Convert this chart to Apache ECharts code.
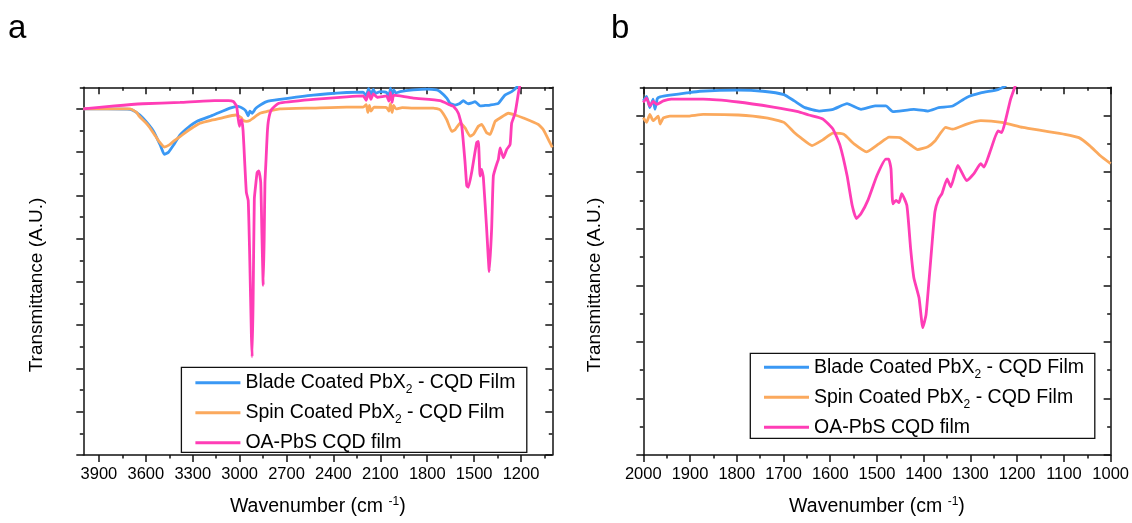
<!DOCTYPE html>
<html><head><meta charset="utf-8">
<script src="https://cdn.jsdelivr.net/npm/echarts@6/dist/echarts.min.js"></script>
<style>html,body{margin:0;padding:0;background:#fff}#c{width:1132px;height:523px}</style>
</head><body><div id="c"></div>
<script>
// ---------- DATA ----------
const seriesNames = ['Blade Coated PbX2 - CQD Film', 'Spin Coated PbX2 - CQD Film', 'OA-PbS CQD film'];
const seriesColors = ['#3a98f4', '#fba95d', '#ff3db6'];

// Panel a : wavenumber (cm-1), transmittance (a.u.)
const bladeA = [[4000,8.00],[3850,8.00],[3700,7.99],[3665,7.93],[3619,7.79],[3550,7.48],[3505,7.14],[3482,6.95],[3455,7.00],[3420,7.18],[3381,7.40],[3330,7.57],[3275,7.71],[3168,7.86],[3062,8.02],[3009,8.06],[2975,8.00],[2960,7.95],[2945,7.84],[2935,7.95],[2920,7.90],[2900,8.00],[2881,8.06],[2827,8.17],[2742,8.22],[2529,8.32],[2315,8.38],[2210,8.39],[2190,8.30],[2175,8.47],[2160,8.33],[2145,8.45],[2130,8.36],[2100,8.40],[2060,8.38],[2045,8.28],[2035,8.48],[2025,8.30],[2015,8.44],[2000,8.37],[1974,8.40],[1889,8.44],[1803,8.46],[1740,8.44],[1718,8.40],[1675,8.25],[1654,8.13],[1622,8.09],[1595,8.12],[1569,8.19],[1550,8.14],[1537,8.12],[1515,8.14],[1494,8.17],[1478,8.12],[1462,8.07],[1430,8.08],[1398,8.09],[1345,8.13],[1303,8.32],[1260,8.40],[1228,8.50],[1200,8.75]];
const spinA = [[4000,8.00],[3700,8.00],[3660,7.92],[3642,7.83],[3600,7.68],[3573,7.56],[3540,7.38],[3516,7.25],[3482,7.12],[3450,7.17],[3420,7.26],[3381,7.36],[3345,7.46],[3300,7.57],[3254,7.67],[3180,7.74],[3117,7.79],[3025,7.86],[2990,7.80],[2979,7.74],[2955,7.71],[2935,7.73],[2913,7.79],[2870,7.90],[2827,7.94],[2742,8.00],[2529,8.02],[2315,8.04],[2210,8.04],[2190,8.10],[2180,7.92],[2170,8.08],[2160,7.95],[2140,8.04],[2060,8.03],[2045,7.95],[2035,8.12],[2025,7.92],[2015,8.08],[2000,8.00],[1960,8.03],[1889,8.02],[1761,8.02],[1718,7.98],[1675,7.75],[1643,7.48],[1622,7.52],[1590,7.67],[1558,7.56],[1526,7.37],[1505,7.41],[1473,7.60],[1452,7.64],[1420,7.45],[1398,7.41],[1366,7.71],[1334,7.79],[1281,7.90],[1238,7.86],[1185,7.79],[1089,7.64],[1057,7.52],[1015,7.22],[1000,7.11]];
const oaA = [[4000,8.00],[3800,8.07],[3619,8.12],[3381,8.15],[3162,8.19],[3071,8.19],[3040,8.17],[3025,8.10],[3019,8.06],[3010,7.80],[3002,7.60],[2995,7.72],[2987,7.75],[2978,7.50],[2968,6.80],[2957,6.07],[2945,5.88],[2935,4.50],[2925,2.80],[2920,2.27],[2914,3.50],[2906,5.92],[2897,6.25],[2888,6.53],[2877,6.57],[2865,6.30],[2858,5.20],[2849,3.92],[2843,5.00],[2838,6.30],[2831,6.83],[2823,7.45],[2815,7.75],[2797,7.98],[2751,8.13],[2529,8.22],[2315,8.28],[2209,8.30],[2190,8.20],[2175,8.38],[2160,8.22],[2145,8.35],[2120,8.27],[2060,8.30],[2045,8.18],[2035,8.38],[2025,8.15],[2015,8.32],[1974,8.30],[1889,8.25],[1718,8.19],[1654,8.09],[1633,8.06],[1601,7.90],[1579,7.60],[1558,6.76],[1547,6.22],[1537,6.19],[1516,6.53],[1484,7.22],[1473,7.25],[1462,6.45],[1452,6.60],[1441,6.41],[1420,5.23],[1403,4.24],[1388,5.23],[1377,6.45],[1356,6.72],[1345,6.83],[1334,7.10],[1313,6.87],[1292,7.06],[1270,7.18],[1260,7.67],[1238,7.90],[1217,8.36],[1200,8.70]];

// Panel b
const bladeB = [[2000,6.26],[1993,6.34],[1986,6.14],[1979,6.29],[1975,6.11],[1970,6.30],[1964,6.33],[1943,6.36],[1907,6.40],[1879,6.43],[1797,6.45],[1744,6.43],[1699,6.37],[1677,6.26],[1654,6.14],[1624,6.08],[1594,6.11],[1564,6.21],[1534,6.11],[1504,6.17],[1481,6.17],[1466,6.07],[1421,6.11],[1391,6.08],[1368,6.14],[1338,6.17],[1308,6.32],[1278,6.40],[1241,6.46],[1226,6.52],[1215,6.65]];
const spinB = [[2000,5.96],[1993,5.88],[1986,6.02],[1979,5.91],[1968,5.99],[1964,5.85],[1957,5.96],[1943,5.99],[1907,5.99],[1872,6.02],[1797,6.01],[1737,5.96],[1699,5.88],[1677,5.70],[1662,5.60],[1639,5.47],[1616,5.57],[1594,5.69],[1571,5.67],[1549,5.50],[1522,5.36],[1496,5.50],[1474,5.62],[1451,5.61],[1428,5.48],[1413,5.40],[1391,5.45],[1376,5.55],[1353,5.79],[1338,5.76],[1308,5.85],[1278,5.91],[1233,5.88],[1188,5.79],[1143,5.73],[1098,5.67],[1068,5.61],[1045,5.47],[1022,5.29],[1000,5.15]];
const oaB = [[2000,6.23],[1993,6.31],[1986,6.17],[1979,6.25],[1971,6.20],[1957,6.26],[1940,6.29],[1872,6.29],[1797,6.24],[1722,6.15],[1669,6.07],[1646,6.01],[1616,5.94],[1594,5.76],[1579,5.47],[1564,4.94],[1553,4.41],[1544,4.18],[1534,4.27],[1519,4.51],[1500,4.94],[1481,5.23],[1475,5.23],[1470,5.06],[1466,4.44],[1459,4.50],[1453,4.46],[1447,4.62],[1436,4.41],[1428,3.65],[1421,3.13],[1410,2.78],[1402,2.25],[1395,2.48],[1383,3.65],[1376,4.30],[1368,4.53],[1361,4.62],[1350,4.88],[1342,4.74],[1327,5.12],[1308,4.85],[1293,4.97],[1278,5.15],[1271,5.09],[1256,5.41],[1241,5.73],[1233,5.70],[1226,5.88],[1214,6.29],[1203,6.55],[1195,6.75]];

// Tick values
const xTicksA = [3900,3600,3300,3000,2700,2400,2100,1800,1500,1200];
const xMinorA = [3750,3450,3150,2850,2550,2250,1950,1650,1350,1050];
const xTicksB = [2000,1900,1800,1700,1600,1500,1400,1300,1200,1100,1000];
const xMinorB = [1950,1850,1750,1650,1550,1450,1350,1250,1150,1050];
const yTicksA = [0,1,2,3,4,5,6,7,8];
const yMinorA = [0.5,1.5,2.5,3.5,4.5,5.5,6.5,7.5,8.5];
const yTicksB = [0,1,2,3,4,5,6];
const yMinorB = [0.5,1.5,2.5,3.5,4.5,5.5,6.5];

// ---------- CHART ----------
const FONT = '"Liberation Sans", Arial, sans-serif';
const axisColor = '#111';
const lineSt = {color: axisColor, width: 1.5};

function xAxes(grid, min, max, major, minor) {
  const base = {type:'value', gridIndex:grid, min, max, inverse:true, splitLine:{show:false}};
  return [
    Object.assign({}, base, {position:'bottom', axisLine:{show:true, onZero:false, lineStyle:lineSt},
      axisTick:{show:true, customValues:major, length:7, inside:false, lineStyle:lineSt},
      axisLabel:{show:true, customValues:major, margin:11, fontSize:16.5, color:'#000', fontFamily:FONT, formatter:v=>String(v)},
      name:'Wavenumber (cm {sup|-1})', nameLocation:'middle', nameGap:41,
      nameTextStyle:{fontSize:19.5, color:'#000', fontFamily:FONT, lineHeight:22,
        rich:{sup:{fontSize:12, verticalAlign:'top', fontFamily:FONT, color:'#000'}}}}),
    Object.assign({}, base, {position:'bottom', axisLine:{show:false, onZero:false},
      axisTick:{show:true, customValues:minor, length:3.5, inside:false, lineStyle:lineSt}, axisLabel:{show:false}}),
    Object.assign({}, base, {position:'top', axisLine:{show:true, onZero:false, lineStyle:lineSt},
      axisTick:{show:true, customValues:major, length:7, inside:true, lineStyle:lineSt}, axisLabel:{show:false}}),
    Object.assign({}, base, {position:'top', axisLine:{show:false, onZero:false},
      axisTick:{show:true, customValues:minor, length:3.5, inside:true, lineStyle:lineSt}, axisLabel:{show:false}})
  ];
}
function yAxes(grid, min, max, major, minor) {
  const base = {type:'value', gridIndex:grid, min, max, splitLine:{show:false}, axisLabel:{show:false}};
  return [
    Object.assign({}, base, {position:'left', axisLine:{show:true, onZero:false, lineStyle:lineSt},
      axisTick:{show:true, customValues:major, length:7, inside:false, lineStyle:lineSt}}),
    Object.assign({}, base, {position:'left', axisLine:{show:false, onZero:false},
      axisTick:{show:true, customValues:minor, length:3.5, inside:false, lineStyle:lineSt}}),
    Object.assign({}, base, {position:'right', axisLine:{show:true, onZero:false, lineStyle:lineSt},
      axisTick:{show:true, customValues:major, length:7, inside:true, lineStyle:lineSt}}),
    Object.assign({}, base, {position:'right', axisLine:{show:false, onZero:false},
      axisTick:{show:true, customValues:minor, length:3.5, inside:true, lineStyle:lineSt}})
  ];
}

function mkSeries(data, idx, gridAxis) {
  return {type:'line', name:seriesNames[idx], data, xAxisIndex:gridAxis, yAxisIndex:gridAxis,
    showSymbol:false, symbol:'none', clip:true, smooth:0.15,
    lineStyle:{color:seriesColors[idx], width:2.8}, itemStyle:{color:seriesColors[idx]}, z: 2+idx};
}

const legendText = {fontSize:19.5, color:'#000', fontFamily:FONT, lineHeight:26,
  rich:{sub:{fontSize:12, verticalAlign:'bottom', fontFamily:FONT, color:'#000'}}};
function legendFmt(n){ return n.replace('PbX2', 'PbX{sub|2}'); }
function mkLegend(left, top) {
  return {orient:'vertical', left, top, padding:0, itemGap:4, itemWidth:45, itemHeight:3, icon:'rect',
    data:seriesNames, formatter:legendFmt, textStyle:legendText, selectedMode:false};
}

const titleFont = '19px "Liberation Sans", Arial, sans-serif';
const option = {
  animation:false,
  backgroundColor:'#fff',
  grid:[
    {left:83.3, top:87.3, width:469, height:371},
    {left:643.3, top:87.3, width:468.4, height:371}
  ],
  xAxis: xAxes(0, 1000, 4000, xTicksA, xMinorA).concat(xAxes(1, 1000, 2000, xTicksB, xMinorB)),
  yAxis: yAxes(0, 0, 8.5, yTicksA, yMinorA).concat(yAxes(1, 0, 6.5, yTicksB, yMinorB)),
  legend:[mkLegend(195.4, 369.7), mkLegend(764, 354.3)],
  series:[
    mkSeries(bladeA,0,0), mkSeries(spinA,1,0), mkSeries(oaA,2,0),
    mkSeries(bladeB,0,4), mkSeries(spinB,1,4), mkSeries(oaB,2,4)
  ],
  graphic:[
    {type:'text', x:8, y:29, style:{text:'a', font:'33px "Liberation Sans", Arial, sans-serif', fill:'#000', verticalAlign:'middle'}},
    {type:'text', x:611, y:29, style:{text:'b', font:'33px "Liberation Sans", Arial, sans-serif', fill:'#000', verticalAlign:'middle'}},
    {type:'text', x:37, y:285, rotation:Math.PI/2, style:{text:'Transmittance (A.U.)', x:0, y:0, align:'center', verticalAlign:'middle', font:titleFont, fill:'#000'}},
    {type:'text', x:595, y:285, rotation:Math.PI/2, style:{text:'Transmittance (A.U.)', x:0, y:0, align:'center', verticalAlign:'middle', font:titleFont, fill:'#000'}},
    {type:'rect', shape:{x:181.4, y:367.3, width:345.4, height:85}, style:{fill:'none', stroke:'#111', lineWidth:1.3}, z:10},
    {type:'rect', shape:{x:750.3, y:353.3, width:344.5, height:85}, style:{fill:'none', stroke:'#111', lineWidth:1.3}, z:10}
  ]
};
const chart = echarts.init(document.getElementById('c'), null, {renderer:'canvas'});
chart.setOption(option);
</script></body></html>
